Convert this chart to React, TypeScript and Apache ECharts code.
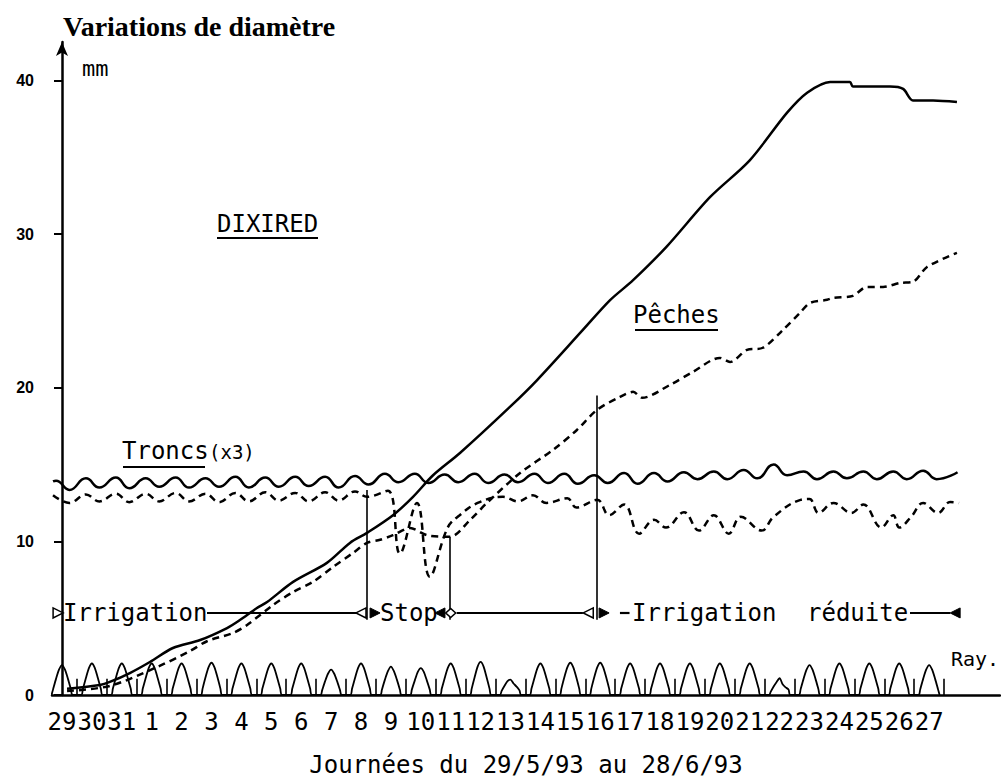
import React, { useEffect, useRef } from "react";
import * as echarts from "echarts";

// x unit: days, 0 = noon of 29 May (label "29"), k = noon of k-th day
const dayLabels = ["29","30","31","1","2","3","4","5","6","7","8","9","10","11","12","13","14","15","16","17","18","19","20","21","22","23","24","25","26","27"];
const yTicks = [0, 10, 20, 30, 40];

// Pêches, irrigated (solid)
const peachIrrigated: [number, number][] = [
  [0.17,0.4],[1.27,0.65],[1.6,0.85],[2.27,1.43],[2.94,2.15],[3.71,3.06],[4.62,3.58],[5.52,4.36],[5.95,4.88],[6.52,5.66],[6.86,6.05],
  [7.73,7.36],[8.86,8.6],[9.63,9.9],[10.2,10.55],[11.07,11.7],[11.74,12.9],[12.41,14.3],[13.31,15.75],[14.98,18.75],[15.89,20.5],
  [17.42,23.76],[18.33,25.7],[19.1,27.0],[20.23,29.2],[21.67,32.4],[23.0,34.8],[24.25,37.9],[24.92,39.2],[25.69,39.9],[26.35,39.9],
  [26.45,39.6],[27.69,39.6],[28.13,39.45],[28.46,38.7],[29.13,38.7],[29.93,38.6]
];

// Pêches, reduced irrigation (dashed)
const peachReduced: [number, number][] = [
  [0.17,0.26],[1.6,0.59],[3.18,1.82],[4.28,2.86],[4.85,3.5],[5.72,4.04],[6.19,4.56],[7.06,5.86],[7.73,6.7],[8.39,7.36],[9.06,8.33],
  [9.73,9.24],[10.2,9.9],[10.64,10.1],[11.07,10.4],[11.64,10.87],[12.21,10.4],[12.98,10.3],[13.65,11.4],[14.21,12.5],[15.32,14.45],
  [16.42,15.95],[17.22,17.25],[17.89,18.55],[18.66,19.4],[19.1,19.73],[19.4,19.34],[20.33,20.18],[21.1,21.03],[22.0,21.94],[22.34,21.68],
  [22.91,22.46],[23.44,22.6],[24.11,23.76],[24.68,24.87],[25.02,25.52],[25.59,25.72],[25.79,25.85],[26.45,25.98],[26.92,26.56],
  [27.46,26.56],[28.03,26.82],[28.46,26.89],[28.93,27.86],[29.93,28.78]
];

// Troncs (x3), irrigated: morning high and evening low per day
const trunkIrrHigh = [13.95,14.1,14.15,14.1,14.15,14.1,14.2,14.15,14.2,14.2,14.25,14.4,14.4,14.35,14.4,14.35,14.4,14.4,14.3,14.45,14.45,14.5,14.55,14.65,15.0,14.55,14.55,14.55,14.55,14.6];
const trunkIrrLow = [13.35,13.5,13.45,13.55,13.5,13.55,13.5,13.55,13.6,13.5,13.7,13.85,13.8,13.85,13.8,13.85,13.8,13.75,13.8,13.75,13.9,14.05,14.05,14.1,14.3,14.05,14.1,14.05,14.05,14.05];

// Troncs (x3), reduced irrigation (dashed)
const trunkReduced: [number, number][] = [
  [-0.3,13.0],[0.25,12.5],[0.8,13.05],[1.25,12.6],[1.8,13.1],[2.25,12.55],[2.8,13.1],[3.25,12.6],[3.8,13.15],[4.25,12.6],[4.8,13.1],
  [5.25,12.55],[5.8,13.15],[6.25,12.6],[6.8,13.2],[7.25,12.65],[7.8,13.15],[8.25,12.6],[8.8,13.2],[9.25,12.65],[9.8,13.25],[10.2,12.9],
  [10.9,13.3],[11.3,9.2],[11.87,12.5],[12.3,7.7],[12.9,10.9],[13.3,11.7],[13.9,12.5],[14.75,12.9],[15.25,12.6],[15.75,13.0],[16.2,12.5],
  [16.9,12.8],[17.2,12.2],[17.9,12.7],[18.3,11.7],[18.8,12.4],[19.3,10.5],[19.8,11.4],[20.2,10.9],[20.8,11.9],[21.3,10.7],[21.8,11.7],
  [22.3,10.5],[22.7,11.6],[23.4,10.7],[23.8,11.6],[24.7,12.7],[25.0,12.76],[25.3,11.85],[25.8,12.5],[26.4,11.85],[26.8,12.4],[27.4,10.9],
  [27.8,11.7],[28.0,10.9],[28.4,11.6],[28.8,12.5],[29.3,11.85],[29.7,12.56],[30.0,12.5]
];

// Rayonnement: per day values at offsets -0.3..+0.3 (0 at ±0.35)
const rayOffsets = [-0.3, -0.2, -0.1, 0, 0.1, 0.2, 0.3];
const rayDays = [
  [0.35,1.05,1.65,1.95,1.65,1.05,0.35],
  [0.4,1.1,1.75,2.05,1.75,1.1,0.4],
  [0.4,1.1,1.75,2.05,1.75,1.1,0.4],
  [0.4,1.1,1.75,2.05,1.75,1.1,0.4],
  [0.4,1.1,1.75,2.05,1.75,1.1,0.4],
  [0.4,1.15,1.8,2.1,1.8,1.15,0.4],
  [0.4,1.1,1.75,2.05,1.75,1.1,0.4],
  [0.4,1.1,1.75,2.05,1.75,1.1,0.4],
  [0.4,1.1,1.75,2.05,1.75,1.1,0.4],
  [0.3,0.9,1.4,1.65,1.4,0.9,0.3],
  [0.4,1.1,1.75,2.05,1.75,1.1,0.4],
  [0.35,1.0,1.55,1.85,1.55,1.0,0.35],
  [0.35,0.95,1.5,1.75,1.5,0.95,0.35],
  [0.4,1.1,1.75,2.05,1.75,1.1,0.4],
  [0.4,1.15,1.85,2.15,1.85,1.15,0.4],
  [0.25,0.6,0.9,1.0,0.75,0.55,0.3],
  [0.4,1.1,1.75,2.05,1.75,1.1,0.4],
  [0.4,1.15,1.8,2.1,1.8,1.15,0.4],
  [0.4,1.15,1.8,2.1,1.8,1.15,0.4],
  [0.4,1.1,1.75,2.05,1.75,1.1,0.4],
  [0.4,1.1,1.75,2.05,1.75,1.1,0.4],
  [0.4,1.1,1.75,2.05,1.75,1.1,0.4],
  [0.4,1.1,1.75,2.05,1.75,1.1,0.4],
  [0.4,1.1,1.75,2.05,1.75,1.1,0.4],
  [0.2,0.55,0.85,1.1,0.7,0.5,0.35],
  [0.35,1.05,1.65,1.95,1.65,1.05,0.35],
  [0.4,1.1,1.75,2.05,1.75,1.1,0.4],
  [0.4,1.1,1.75,2.05,1.75,1.1,0.4],
  [0.4,1.1,1.75,2.05,1.75,1.1,0.4],
  [0.35,1.05,1.65,1.95,1.65,1.05,0.35]
];
const midnightTickHeight = 1.05;

// phase markers (days) and arrow-row level
const phaseLines: [number, number, number][] = [[10.2, 4.9, 13.35], [12.98, 4.9, 10.3], [17.9, 4.9, 19.5]];
const arrowRow = 5.34;
const arrowSegments: [number, number][] = [[4.85, 9.87], [13.2, 17.42], [28.36, 29.7]];
// [t, direction(1 right/-1 left), filled]
const arrowHeads: [number, number, boolean][] = [
  [-0.13, 1, false], [10.0, -1, false], [10.47, 1, true], [12.64, -1, true], [17.6, -1, false], [18.13, 1, true], [29.87, -1, true]
];

const MONO = "'DejaVu Sans Mono', monospace";

export default function App() {
  const ref = useRef<HTMLDivElement>(null);
  useEffect(() => {
    if (!ref.current) return;
    const chart = echarts.init(ref.current, undefined, { renderer: "svg" });

    const trunkIrr: [number, number][] = [];
    trunkIrrHigh.forEach((h, k) => {
      if (k === 0) trunkIrr.push([-0.3, 13.9]);
      trunkIrr.push([k - 0.2, h]);
      trunkIrr.push([k + 0.25, trunkIrrLow[k]]);
    });
    trunkIrr.push([29.95, 14.5]);

    const ray: [number, number][] = [];
    rayDays.forEach((vals, k) => {
      ray.push([k - 0.35, 0]);
      vals.forEach((v, i) => ray.push([k + rayOffsets[i], v]));
      ray.push([k + 0.35, 0]);
    });

    const midnights = dayLabels.map((_, i) => i + 0.5);

    const option: any = {
      animation: false,
      backgroundColor: "#fff",
      title: {
        text: "Variations de diamètre",
        left: 58,
        top: 7,
        textStyle: { fontFamily: "'Liberation Serif', serif", fontWeight: "bold", fontSize: 28, color: "#000" },
      },
      grid: { left: 52, right: 1, top: 42, bottom: 83, containLabel: false, outerBoundsMode: "none" },
      xAxis: {
        type: "value",
        min: -0.334,
        max: 31.37,
        axisLine: { lineStyle: { color: "#000", width: 2.5 } },
        axisTick: { show: false },
        axisLabel: {
          customValues: dayLabels.map((_, i) => i),
          formatter: (v: number) => dayLabels[Math.round(v)] ?? "",
          fontFamily: MONO,
          fontSize: 24,
          color: "#000",
          margin: 15,
          hideOverlap: false,
        },
        splitLine: { show: false },
        name: "Journées du 29/5/93 au 28/6/93",
        nameLocation: "middle",
        nameGap: 58,
        nameTextStyle: { fontFamily: MONO, fontSize: 24, color: "#000" },
      },
      yAxis: {
        type: "value",
        min: 0,
        max: 42.5,
        interval: 10,
        axisLine: { show: true, lineStyle: { color: "#000", width: 2.5 }, symbol: ["none", "arrow"], symbolSize: [9, 14] },
        axisTick: { show: true, inside: false, length: 8, lineStyle: { color: "#000", width: 2 } },
        axisLabel: {
          fontFamily: "'Liberation Sans', Arial, sans-serif",
          fontWeight: "bold",
          fontSize: 16,
          color: "#000",
          margin: 18,
          showMaxLabel: false,
          formatter: (v: number) => (yTicks.includes(v) ? String(v) : ""),
        },
        splitLine: { show: false },
      },
      series: [
        {
          name: "Pêches irriguées",
          type: "line",
          data: peachIrrigated,
          showSymbol: false,
          smooth: 0.3,
          lineStyle: { color: "#000", width: 2.5 },
        },
        {
          name: "Pêches irrigation réduite",
          type: "line",
          data: peachReduced,
          showSymbol: false,
          smooth: 0.3,
          lineStyle: { color: "#000", width: 2.5, type: [7, 5] },
        },
        {
          name: "Troncs irrigués",
          type: "line",
          data: trunkIrr,
          showSymbol: false,
          smooth: 0.5,
          lineStyle: { color: "#000", width: 2.5 },
        },
        {
          name: "Troncs irrigation réduite",
          type: "line",
          data: trunkReduced,
          showSymbol: false,
          smooth: 0.4,
          lineStyle: { color: "#000", width: 2.5, type: [7, 5] },
        },
        {
          name: "Ray.",
          type: "line",
          data: ray,
          showSymbol: false,
          smooth: 0.25,
          lineStyle: { color: "#000", width: 1.8 },
          markLine: {
            silent: true,
            symbol: "none",
            label: { show: false },
            lineStyle: { color: "#000", type: "solid", width: 2.2 },
            data: [
              ...arrowSegments.map(([a, b]) => [{ coord: [a, arrowRow] }, { coord: [b, arrowRow] }]),
              ...phaseLines.map(([t, lo, hi]) => [
                { coord: [t, lo], lineStyle: { width: 1.6 } },
                { coord: [t, hi] },
              ]),
              [{ coord: [18.66, arrowRow] }, { coord: [18.98, arrowRow] }],
              ...midnights.map((m) => [
                { coord: [m, 0], lineStyle: { width: 1.6 } },
                { coord: [m, midnightTickHeight] },
              ]),
            ],
          },
          markPoint: {
            silent: true,
            label: { show: false },
            data: [
              ...arrowHeads.map(([t, dir, filled]) => ({
                coord: [t, arrowRow],
                symbol: "triangle",
                symbolSize: [10, 10],
                symbolRotate: dir > 0 ? -90 : 90,
                itemStyle: filled
                  ? { color: "#000", borderColor: "#000", borderWidth: 1 }
                  : { color: "#fff", borderColor: "#000", borderWidth: 1.5 },
              })),
              {
                coord: [13.0, arrowRow],
                symbol: "diamond",
                symbolSize: [10, 9],
                itemStyle: { color: "#fff", borderColor: "#000", borderWidth: 1.5 },
              },
            ],
          },
        },
      ],
      graphic: [
        { type: "text", x: 82, y: 68, style: { text: "mm", font: `22px ${MONO}`, fill: "#000", textVerticalAlign: "middle" } },
        { type: "text", x: 217, y: 224, style: { text: "DIXIRED", font: `24px ${MONO}`, fill: "#000", textVerticalAlign: "middle" } },
        { type: "line", shape: { x1: 217, y1: 238, x2: 318, y2: 238 }, style: { stroke: "#000", lineWidth: 2 } },
        { type: "text", x: 633, y: 315, style: { text: "Pêches", font: `24px ${MONO}`, fill: "#000", textVerticalAlign: "middle" } },
        { type: "line", shape: { x1: 635, y1: 330, x2: 718, y2: 330 }, style: { stroke: "#000", lineWidth: 2 } },
        { type: "text", x: 122, y: 451, style: { text: "Troncs", font: `24px ${MONO}`, fill: "#000", textVerticalAlign: "middle" } },
        { type: "line", shape: { x1: 123, y1: 467, x2: 205, y2: 467 }, style: { stroke: "#000", lineWidth: 2 } },
        { type: "text", x: 209, y: 452, style: { text: "(x3)", font: `19px ${MONO}`, fill: "#000", textVerticalAlign: "middle" } },
        { type: "text", x: 951, y: 659, style: { text: "Ray.", font: `20px ${MONO}`, fill: "#000", textVerticalAlign: "middle" } },
        { type: "text", x: 63, y: 613, style: { text: "Irrigation", font: `24px ${MONO}`, fill: "#000", textVerticalAlign: "middle" } },
        { type: "text", x: 380, y: 613, style: { text: "Stop", font: `24px ${MONO}`, fill: "#000", textVerticalAlign: "middle" } },
        { type: "text", x: 632, y: 613, style: { text: "Irrigation", font: `24px ${MONO}`, fill: "#000", textVerticalAlign: "middle" } },
        { type: "text", x: 807, y: 613, style: { text: "réduite", font: `24px ${MONO}`, fill: "#000", textVerticalAlign: "middle" } },
      ],
    };
    chart.setOption(option);
    return () => chart.dispose();
  }, []);
  return <div ref={ref} style={{ position: "absolute", left: 0, top: 0, width: 1001, height: 778, background: "#fff" }} />;
}
